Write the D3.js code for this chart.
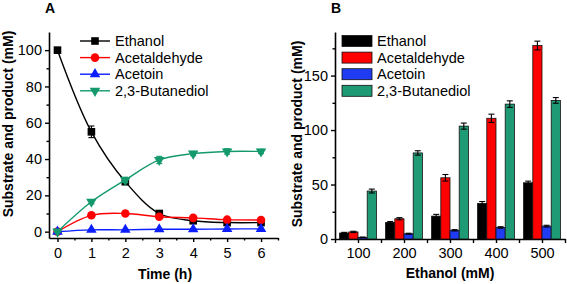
<!DOCTYPE html>
<html>
<head>
<meta charset="utf-8">
<script src="https://cdnjs.cloudflare.com/ajax/libs/d3/7.8.5/d3.min.js"></script>
<style>
  body { margin: 0; background: #fff; }
  text { font-family: "Liberation Sans", Arial, sans-serif; }
</style>
</head>
<body>
<script>
// ---- data ----
const seriesNames = ["Ethanol", "Acetaldehyde", "Acetoin", "2,3-Butanediol"];

// panel A: time course
const timeH = [0, 1, 2, 3, 4, 5, 6];
const ethanolA = [100, 55, 27.5, 10, 6, 5, 5];
const ethanolAErr = [0.6, 3.2, 1.5, 1, 0.8, 0.6, 0.6];
const acetaldehydeA = [0, 9, 10, 8.2, 7.6, 6.6, 6.4];
const acetaldehydeAErr = [0.3, 0.8, 0.8, 0.6, 0.6, 0.6, 0.6];
const acetoinA = [0, 1, 1, 1.3, 1.3, 1.5, 1.5];
const acetoinAErr = [0.2, 0.3, 0.3, 0.3, 0.3, 0.3, 0.3];
const butanediolA = [0, 16.5, 28.5, 39.5, 43, 44.2, 44.2];
const butanediolAErr = [0.3, 1.2, 1.5, 2, 1.2, 1.5, 1.2];
const xTicksA = [0, 1, 2, 3, 4, 5, 6];
const yTicksA = [0, 20, 40, 60, 80, 100];

// panel B: initial ethanol concentration
const ethanolConc = [100, 200, 300, 400, 500];
const ethanolB = [5.5, 15.2, 21, 32.6, 51.6];
const ethanolBErr = [0.6, 0.8, 1.6, 1.8, 1.5];
const acetaldehydeB = [6.5, 18.6, 56.2, 110.8, 177.6];
const acetaldehydeBErr = [0.6, 1, 3, 3.8, 4];
const acetoinB = [1.5, 4.8, 8, 10.6, 11.8];
const acetoinBErr = [0.3, 0.5, 0.6, 0.7, 0.8];
const butanediolB = [44, 79, 103.6, 123.8, 127.2];
const butanediolBErr = [1.8, 2, 2.8, 3, 2.6];
const yTicksB = [0, 50, 100, 150];

const lineColors = ["#000000", "#ff0000", "#0a1eff", "#13996b"];
const barColors = ["#000000", "#ff0000", "#1f3cf2", "#1e9a74"];

const tickFont = 14.5, legFont = 14.5, titleFont = 14;

const svg = d3.select("body").append("svg")
  .attr("width", 567).attr("height", 284);

function styleAxis(g) {
  g.select(".domain").attr("stroke-width", 1.6);
  g.selectAll(".tick line").attr("stroke-width", 1.4);
  g.selectAll("text").attr("font-size", tickFont).attr("fill", "#000")
    .attr("font-family", "'Liberation Sans', Arial, sans-serif");
}

// ===== Panel A =====
const xA = d3.scaleLinear().domain([-0.25, 6.5]).range([49, 278]);
const yA = d3.scaleLinear().domain([-3.5, 110]).range([238, 32]);

svg.append("g").attr("transform", "translate(0,238)")
  .call(d3.axisBottom(xA).tickValues(xTicksA).tickFormat(d3.format("d"))
    .tickSize(4).tickSizeOuter(0).tickPadding(6))
  .call(styleAxis);
svg.append("g").attr("transform", "translate(0,238)")
  .call(d3.axisBottom(xA).tickValues(xTicksA.map(d => d + 0.5)).tickSize(2.5).tickSizeOuter(0).tickFormat(""))
  .call(g => g.select(".domain").remove())
  .call(styleAxis);
svg.append("g").attr("transform", "translate(49,0)")
  .call(d3.axisLeft(yA).tickValues(yTicksA).tickSize(4).tickSizeOuter(0).tickPadding(3))
  .call(styleAxis);
svg.append("g").attr("transform", "translate(49,0)")
  .call(d3.axisLeft(yA).tickValues(yTicksA.slice(0, -1).map(d => d + 10)).tickSize(2.5).tickSizeOuter(0).tickFormat(""))
  .call(g => g.select(".domain").remove())
  .call(styleAxis);

const seriesA = [
  {v: ethanolA, e: ethanolAErr, sym: d3.symbolSquare, size: 58, rot: 0},
  {v: acetaldehydeA, e: acetaldehydeAErr, sym: d3.symbolCircle, size: 58, rot: 0},
  {v: acetoinA, e: acetoinAErr, sym: d3.symbolTriangle, size: 48, rot: 0},
  {v: butanediolA, e: butanediolAErr, sym: d3.symbolTriangle, size: 48, rot: 180}
];

const line = d3.line()
  .x(d => xA(d[0])).y(d => yA(d[1]))
  .curve(d3.curveCatmullRom);

seriesA.forEach((s, i) => {
  const pts = timeH.map((t, j) => [t, s.v[j], s.e[j]]);
  const g = svg.append("g");
  g.append("path").datum(pts)
    .attr("fill", "none").attr("stroke", lineColors[i]).attr("stroke-width", 1.4)
    .attr("d", line);
  // error bars
  const eb = g.selectAll(".eb").data(pts).enter().append("g")
    .attr("stroke", i === 0 ? "#000" : lineColors[i]).attr("stroke-width", 1.1);
  eb.append("line")
    .attr("x1", d => xA(d[0])).attr("x2", d => xA(d[0]))
    .attr("y1", d => yA(d[1] - d[2])).attr("y2", d => yA(d[1] + d[2]));
  eb.append("line")
    .attr("x1", d => xA(d[0]) - 3).attr("x2", d => xA(d[0]) + 3)
    .attr("y1", d => yA(d[1] + d[2])).attr("y2", d => yA(d[1] + d[2]));
  eb.append("line")
    .attr("x1", d => xA(d[0]) - 3).attr("x2", d => xA(d[0]) + 3)
    .attr("y1", d => yA(d[1] - d[2])).attr("y2", d => yA(d[1] - d[2]));
  g.selectAll(".mk").data(pts).enter().append("path")
    .attr("d", d3.symbol().type(s.sym).size(s.size))
    .attr("fill", lineColors[i])
    .attr("transform", d => `translate(${xA(d[0])},${yA(d[1])}) rotate(${s.rot})`);
});

// legend A
const legA = svg.append("g");
seriesNames.forEach((name, i) => {
  const y = 41 + i * 16.6;
  legA.append("line").attr("x1", 80).attr("x2", 110).attr("y1", y).attr("y2", y)
    .attr("stroke", lineColors[i]).attr("stroke-width", 1.4);
  legA.append("path")
    .attr("d", d3.symbol().type(seriesA[i].sym).size(seriesA[i].size))
    .attr("fill", lineColors[i])
    .attr("transform", `translate(95,${y}) rotate(${seriesA[i].rot})`);
  legA.append("text").attr("x", 115).attr("y", y).attr("dy", "0.36em")
    .attr("font-size", legFont).text(name);
});

svg.append("text").attr("x", 50).attr("y", 13).attr("text-anchor", "middle")
  .attr("font-size", 14).attr("font-weight", "bold").text("A");
svg.append("text").attr("x", 165).attr("y", 279).attr("text-anchor", "middle")
  .attr("font-size", titleFont).attr("font-weight", "bold").text("Time (h)");
svg.append("text").attr("transform", "translate(13,124) rotate(-90)")
  .attr("text-anchor", "middle")
  .attr("font-size", titleFont).attr("font-weight", "bold").text("Substrate and product (mM)");

// ===== Panel B =====
const xB = d3.scaleLinear().domain([50, 550]).range([335, 565]);
const yB = d3.scaleLinear().domain([0, 190]).range([239, 32]);
const step = xB(200) - xB(100);
const barW = step * 0.2;

svg.append("g").attr("transform", "translate(0,239)")
  .call(d3.axisBottom(xB).tickValues(d3.range(50, 551, 50)).tickSize(4).tickSizeOuter(0).tickPadding(5)
    .tickFormat(d => ethanolConc.includes(d) ? d : ""))
  .call(styleAxis);
svg.append("g").attr("transform", "translate(335,0)")
  .call(d3.axisLeft(yB).tickValues(yTicksB).tickSize(4).tickSizeOuter(0).tickPadding(3))
  .call(styleAxis);
svg.append("g").attr("transform", "translate(335,0)")
  .call(d3.axisLeft(yB).tickValues(yTicksB.map(d => d + 25)).tickSize(2.5).tickSizeOuter(0).tickFormat(""))
  .call(g => g.select(".domain").remove())
  .call(styleAxis);

const seriesB = [
  {v: ethanolB, e: ethanolBErr},
  {v: acetaldehydeB, e: acetaldehydeBErr},
  {v: acetoinB, e: acetoinBErr},
  {v: butanediolB, e: butanediolBErr}
];

seriesB.forEach((s, i) => {
  const pts = ethanolConc.map((c, j) => ({c, v: s.v[j], e: s.e[j]}));
  const g = svg.append("g");
  const bx = d => xB(d.c) + (i - 2) * barW;
  g.selectAll("rect").data(pts).enter().append("rect")
    .attr("x", bx).attr("width", barW)
    .attr("y", d => yB(d.v)).attr("height", d => yB(0) - yB(d.v))
    .attr("fill", barColors[i]).attr("stroke", "#111").attr("stroke-width", 0.8);
  const eb = g.selectAll(".eb").data(pts).enter().append("g")
    .attr("stroke", "#000").attr("stroke-width", 1.1);
  const cx = d => bx(d) + barW / 2;
  eb.append("line").attr("x1", cx).attr("x2", cx)
    .attr("y1", d => yB(d.v - d.e)).attr("y2", d => yB(d.v + d.e));
  eb.append("line").attr("x1", d => cx(d) - 3).attr("x2", d => cx(d) + 3)
    .attr("y1", d => yB(d.v + d.e)).attr("y2", d => yB(d.v + d.e));
  eb.append("line").attr("x1", d => cx(d) - 3).attr("x2", d => cx(d) + 3)
    .attr("y1", d => yB(d.v - d.e)).attr("y2", d => yB(d.v - d.e));
});

// legend B
const legB = svg.append("g");
seriesNames.forEach((name, i) => {
  const y = 41 + i * 16.6;
  legB.append("rect").attr("x", 342).attr("y", y - 5.5).attr("width", 30).attr("height", 11)
    .attr("fill", barColors[i]).attr("stroke", "#111").attr("stroke-width", 0.8);
  legB.append("text").attr("x", 377).attr("y", y).attr("dy", "0.36em")
    .attr("font-size", legFont).text(name);
});

svg.append("text").attr("x", 336).attr("y", 13).attr("text-anchor", "middle")
  .attr("font-size", 14).attr("font-weight", "bold").text("B");
svg.append("text").attr("x", 450).attr("y", 278).attr("text-anchor", "middle")
  .attr("font-size", titleFont).attr("font-weight", "bold").text("Ethanol (mM)");
svg.append("text").attr("transform", "translate(302,134) rotate(-90)")
  .attr("text-anchor", "middle")
  .attr("font-size", titleFont).attr("font-weight", "bold").text("Substrate and product (mM)");
</script>
</body>
</html>
